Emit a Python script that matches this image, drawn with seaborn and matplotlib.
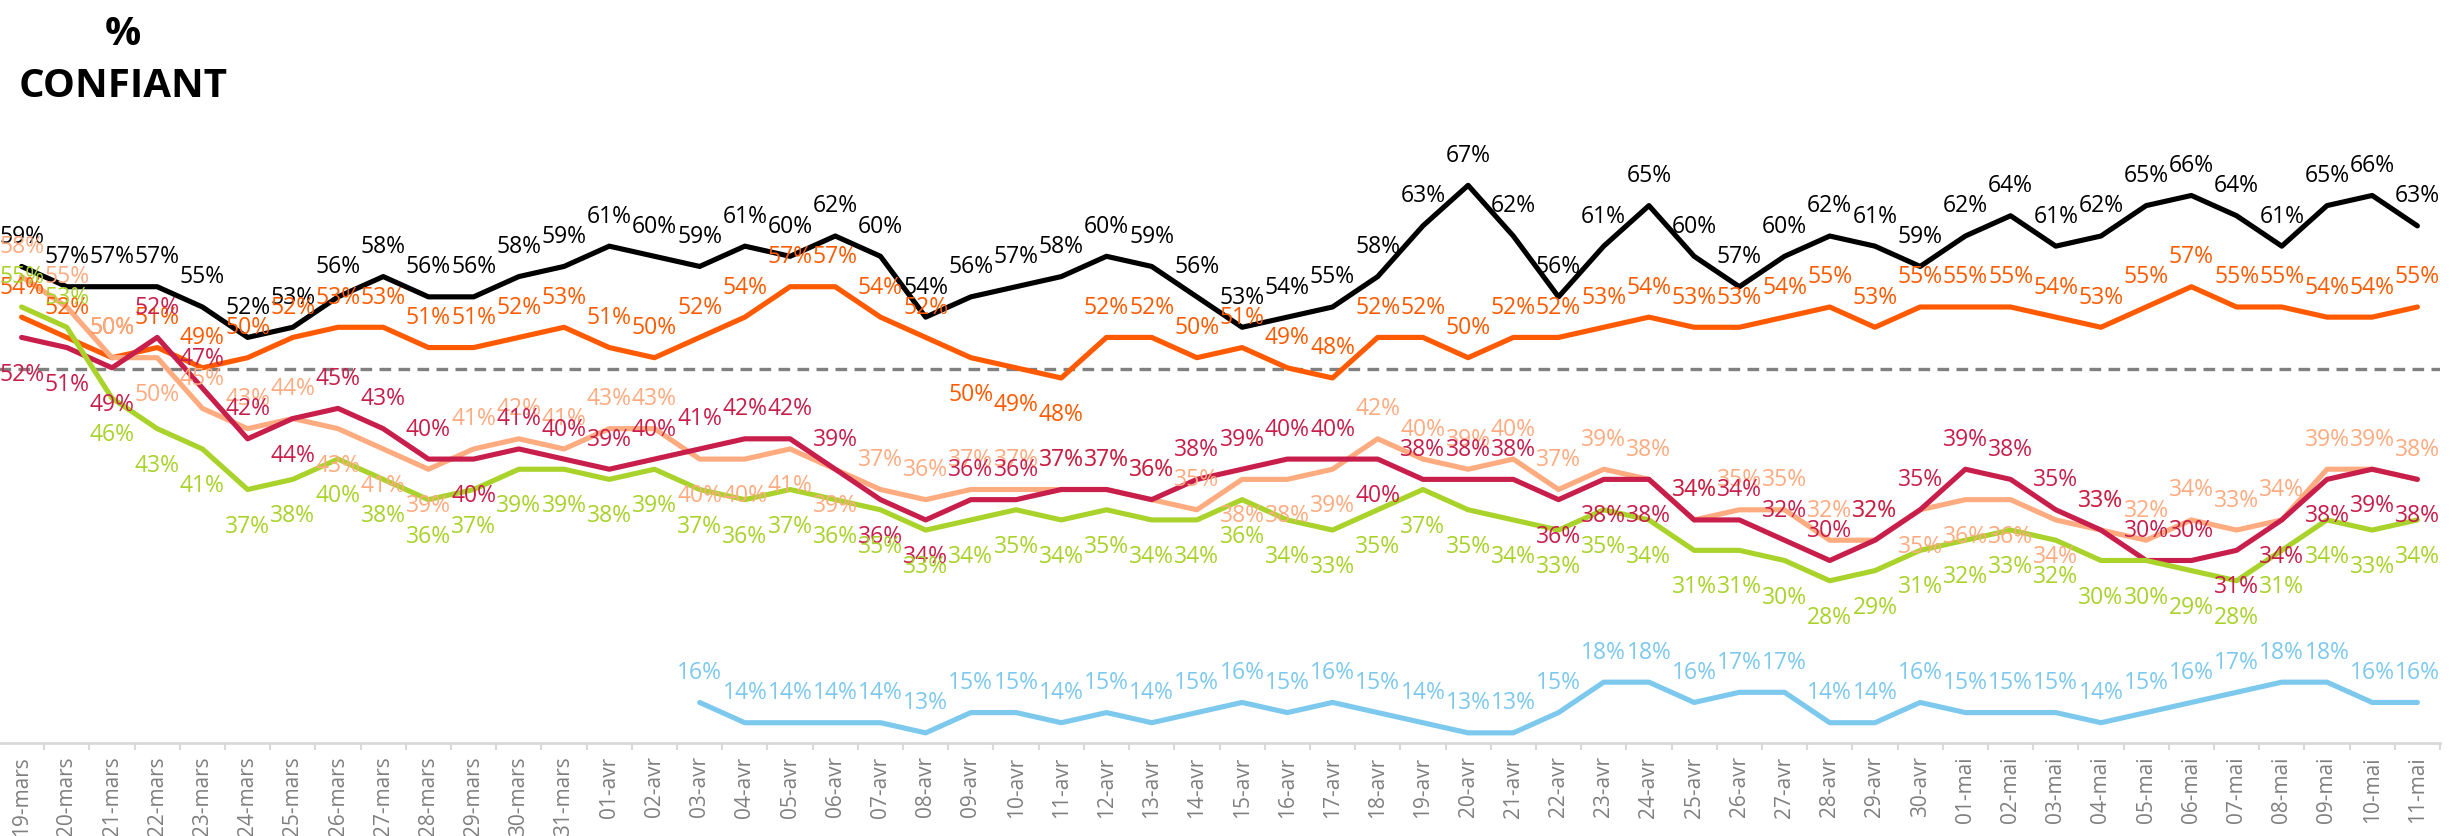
import numpy as np
import pandas as pd
import matplotlib
matplotlib.use("Agg")
import matplotlib.pyplot as plt
import seaborn as sns

# ---------------- data ----------------
dates = ([f"{d:02d}-mars" for d in range(19, 32)] +
         [f"{d:02d}-avr" for d in range(1, 31)] +
         [f"{d:02d}-mai" for d in range(1, 12)])

black = [59, 57, 57, 57, 55, 52, 53, 56, 58, 56, 56, 58, 59, 61,
         60, 59, 61, 60, 62, 60, 54, 56, 57, 58, 60, 59, 56,
         53, 54, 55, 58, 63, 67, 62, 56, 61, 65, 60, 57, 60,
         62, 61, 59, 62, 64, 61, 62, 65, 66, 64, 61, 65, 66, 63]

orange = [54, 52, 50, 51, 49, 50, 52, 53, 53, 51, 51, 52, 53, 51,
          50, 52, 54, 57, 57, 54, 52, 50, 49, 48, 52, 52, 50,
          51, 49, 48, 52, 52, 50, 52, 52, 53, 54, 53, 53, 54,
          55, 53, 55, 55, 55, 54, 53, 55, 57, 55, 55, 54, 54, 55]

salmon = [58, 55, 50, 50, 45, 43, 44, 43, 41, 39, 41, 42, 41, 43,
          43, 40, 40, 41, 39, 37, 36, 37, 37, 37, 37, 36, 35,
          38, 38, 39, 42, 40, 39, 40, 37, 39, 38, 34, 35, 35,
          32, 32, 35, 36, 36, 34, 33, 32, 34, 33, 34, 39, 39, 38]

crimson = [52, 51, 49, 52, 47, 42, 44, 45, 43, 40, 40, 41, 40, 39,
           40, 41, 42, 42, 39, 36, 34, 36, 36, 37, 37, 36, 38,
           39, 40, 40, 40, 38, 38, 38, 36, 38, 38, 34, 34, 32,
           30, 32, 35, 39, 38, 35, 33, 30, 30, 31, 34, 38, 39, 38]

green = [55, 53, 46, 43, 41, 37, 38, 40, 38, 36, 37, 39, 39, 38,
         39, 37, 36, 37, 36, 35, 33, 34, 35, 34, 35, 34, 34,
         36, 34, 33, 35, 37, 35, 34, 33, 35, 34, 31, 31, 30,
         28, 29, 31, 32, 33, 32, 30, 30, 29, 28, 31, 34, 33, 34]

blue = [None] * 15 + [16, 14, 14, 14, 14, 13, 15, 15, 14, 15, 14, 15, 16,
                      15, 16, 15, 14, 13, 13, 15, 18, 18, 16, 17, 17, 14,
                      14, 16, 15, 15, 15, 14, 15, 16, 17, 18, 18, 16, 16]

reference_level = 48.9

# ---------------- style ----------------
series_order = ["black", "orange", "salmon", "crimson", "green", "blue"]
series_values = {"black": black, "orange": orange, "salmon": salmon,
                 "crimson": crimson, "green": green, "blue": blue}
colors = {"black": "#000000", "orange": "#FF5A00", "salmon": "#FFAB80",
          "crimson": "#C81E4B", "green": "#A9D22B", "blue": "#7DC9EE"}

label_below = {
    "black": set(),
    "orange": {21, 22, 23},
    "salmon": {3, 7, 8, 9, 15, 16, 17, 18, 27, 28, 29, 42, 43, 44, 45},
    "crimson": {0, 1, 2, 6, 10, 19, 20, 30, 34, 35, 36, 49, 50, 51, 52, 53},
    "green": set(range(2, 54)),
    "blue": set(),
}

sns.set_theme(style="white")
plt.rcParams['font.family'] = ['Open Sans', 'DejaVu Sans']

W, H = 2453, 837
fig = plt.figure(figsize=(W / 100, H / 100), dpi=100)
ax = fig.add_axes([-1 / W, (H - 744) / H, 2441 / W, 588.1 / H])

rows = []
for name in series_order:
    for i, v in enumerate(series_values[name]):
        if v is not None:
            rows.append({"series": name, "idx": i, "value": v})
df = pd.DataFrame(rows)

ax.axhline(reference_level, color="#808080", lw=2.4,
           ls=(0, (3.5, 2.2)), zorder=1)

for z, name in enumerate(series_order):
    sub = df[df["series"] == name]
    sns.lineplot(data=sub, x="idx", y="value", color=colors[name],
                 linewidth=3.7, ax=ax, legend=False, errorbar=None,
                 sort=True, zorder=2 + z)

for name in series_order:
    sub = df[df["series"] == name]
    for i, v in zip(sub["idx"], sub["value"]):
        dy = -26 if i in label_below[name] else 22
        ax.annotate(f"{v}%", (i, v), xytext=(0, dy),
                    textcoords="offset points", ha="center", va="center",
                    color=colors[name], fontsize=16.5, zorder=20,
                    annotation_clip=False)

ax.set_xlim(-0.5, len(dates) - 0.5)
ax.set_ylim(12, 70)
ax.set_xticks(range(len(dates)))
ax.set_xticklabels(dates, rotation=90, color="#7F7F7F", fontsize=15)
ax.set_xticks(np.arange(-0.5, len(dates), 1.0), minor=True)
ax.tick_params(axis="x", which="major", length=0, pad=9)
ax.tick_params(axis="x", which="minor", length=5, width=1.5,
               color="#D9D9D9", bottom=True)
ax.set_yticks([])
ax.set_xlabel("")
ax.set_ylabel("")
for s in ["top", "left", "right"]:
    ax.spines[s].set_visible(False)
ax.spines["bottom"].set_color("#D9D9D9")
ax.spines["bottom"].set_linewidth(2)

fig.text(123 / W, 1 - 45 / H, "%", ha="center", va="baseline",
         fontsize=29, fontweight="bold", color="black")
fig.text(123 / W, 1 - 97 / H, "CONFIANT", ha="center", va="baseline",
         fontsize=29, fontweight="bold", color="black")

fig.savefig("out.png", dpi=100)
